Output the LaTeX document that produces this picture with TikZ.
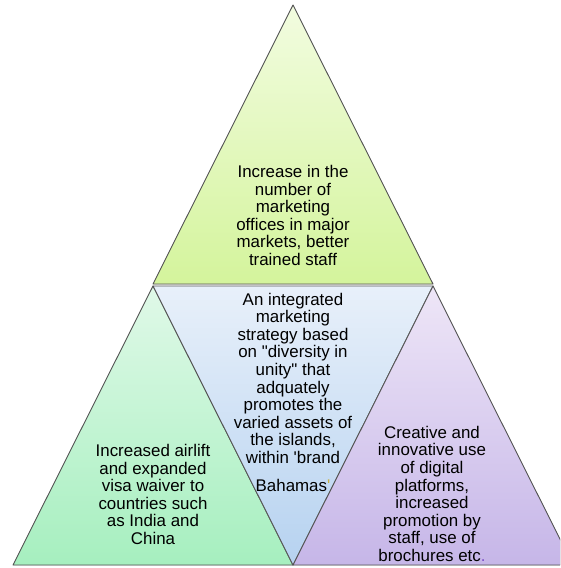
\documentclass[tikz,border=0pt]{standalone}
\usepackage{fontspec}
\setmainfont{Liberation Sans}
\usetikzlibrary{calc}
\definecolor{edge}{HTML}{555555}
\definecolor{shadow}{HTML}{9A9A9A}
\definecolor{topA}{HTML}{F2FCE0}
\definecolor{topB}{HTML}{D4F49C}
\definecolor{leftA}{HTML}{E0F9E8}
\definecolor{leftB}{HTML}{A6EFBF}
\definecolor{midA}{HTML}{E8F0FA}
\definecolor{midB}{HTML}{B6D2F0}
\definecolor{rightA}{HTML}{EEE6F7}
\definecolor{rightB}{HTML}{C6B6E8}
\definecolor{quotemark}{HTML}{C8B040}
\definecolor{dotmark}{HTML}{7A4FC8}

\begin{document}
\begin{tikzpicture}[x=1pt, y=-1pt,
  tri/.style={draw=edge, line width=0.9pt, line join=round},
  shade/.style={fill=shadow},
  every node/.style={font=\fontsize{16.9}{17.6}\selectfont, align=center, inner sep=0pt, anchor=base}]
\useasboundingbox (0,0) rectangle (560,568);
\clip (0,0) rectangle (560,568);
% corners of the four triangles
\coordinate (apex) at (293,5);
\coordinate (tl) at (153,284);
\coordinate (tr) at (433,284);
\coordinate (ml) at (153,286);
\coordinate (mr) at (433,286);
\coordinate (bl) at (13,565);
\coordinate (bm) at (293,565);
\coordinate (br) at (573,565);
% shadows
\begin{scope}[shift={(1.5,2)}]
\fill[shade] (apex) -- (tl) -- (tr) -- cycle;
\fill[shade] (ml) -- (bl) -- (bm) -- cycle;
\fill[shade] (mr) -- (bm) -- (br) -- cycle;
\end{scope}
% triangles
\shade[tri, top color=topA, bottom color=topB] (apex) -- (tl) -- (tr) -- cycle;
\shade[tri, top color=leftA, bottom color=leftB] (ml) -- (bl) -- (bm) -- cycle;
\shade[tri, top color=midA, bottom color=midB] (ml) -- (mr) -- (bm) -- cycle;
\shade[tri, top color=rightA, bottom color=rightB] (mr) -- (bm) -- (br) -- cycle;
% texts (anchored at the last baseline)
\node (offices) at (293,265.5) {Increase in the\\number of\\marketing\\offices in major\\markets, better\\trained staff};
\node (airlift) at (153,544.5) {Increased airlift\\and expanded\\visa waiver to\\countries such\\as India and\\China};
\node (strategy) at (293,491) {An integrated\\marketing\\strategy based\\on \textquotedbl diversity in\\unity\textquotedbl\ that\\adquately\\promotes the\\varied assets of\\the islands,\\within \textquotesingle brand\\[10pt]Bahamas{\color{quotemark}\textquotesingle}};
\node (digital) at (432,561.5) {Creative and\\innovative use\\of digital\\platforms,\\increased\\promotion by\\staff, use of\\brochures etc{\color{dotmark}.}};
\end{tikzpicture}
\end{document}
